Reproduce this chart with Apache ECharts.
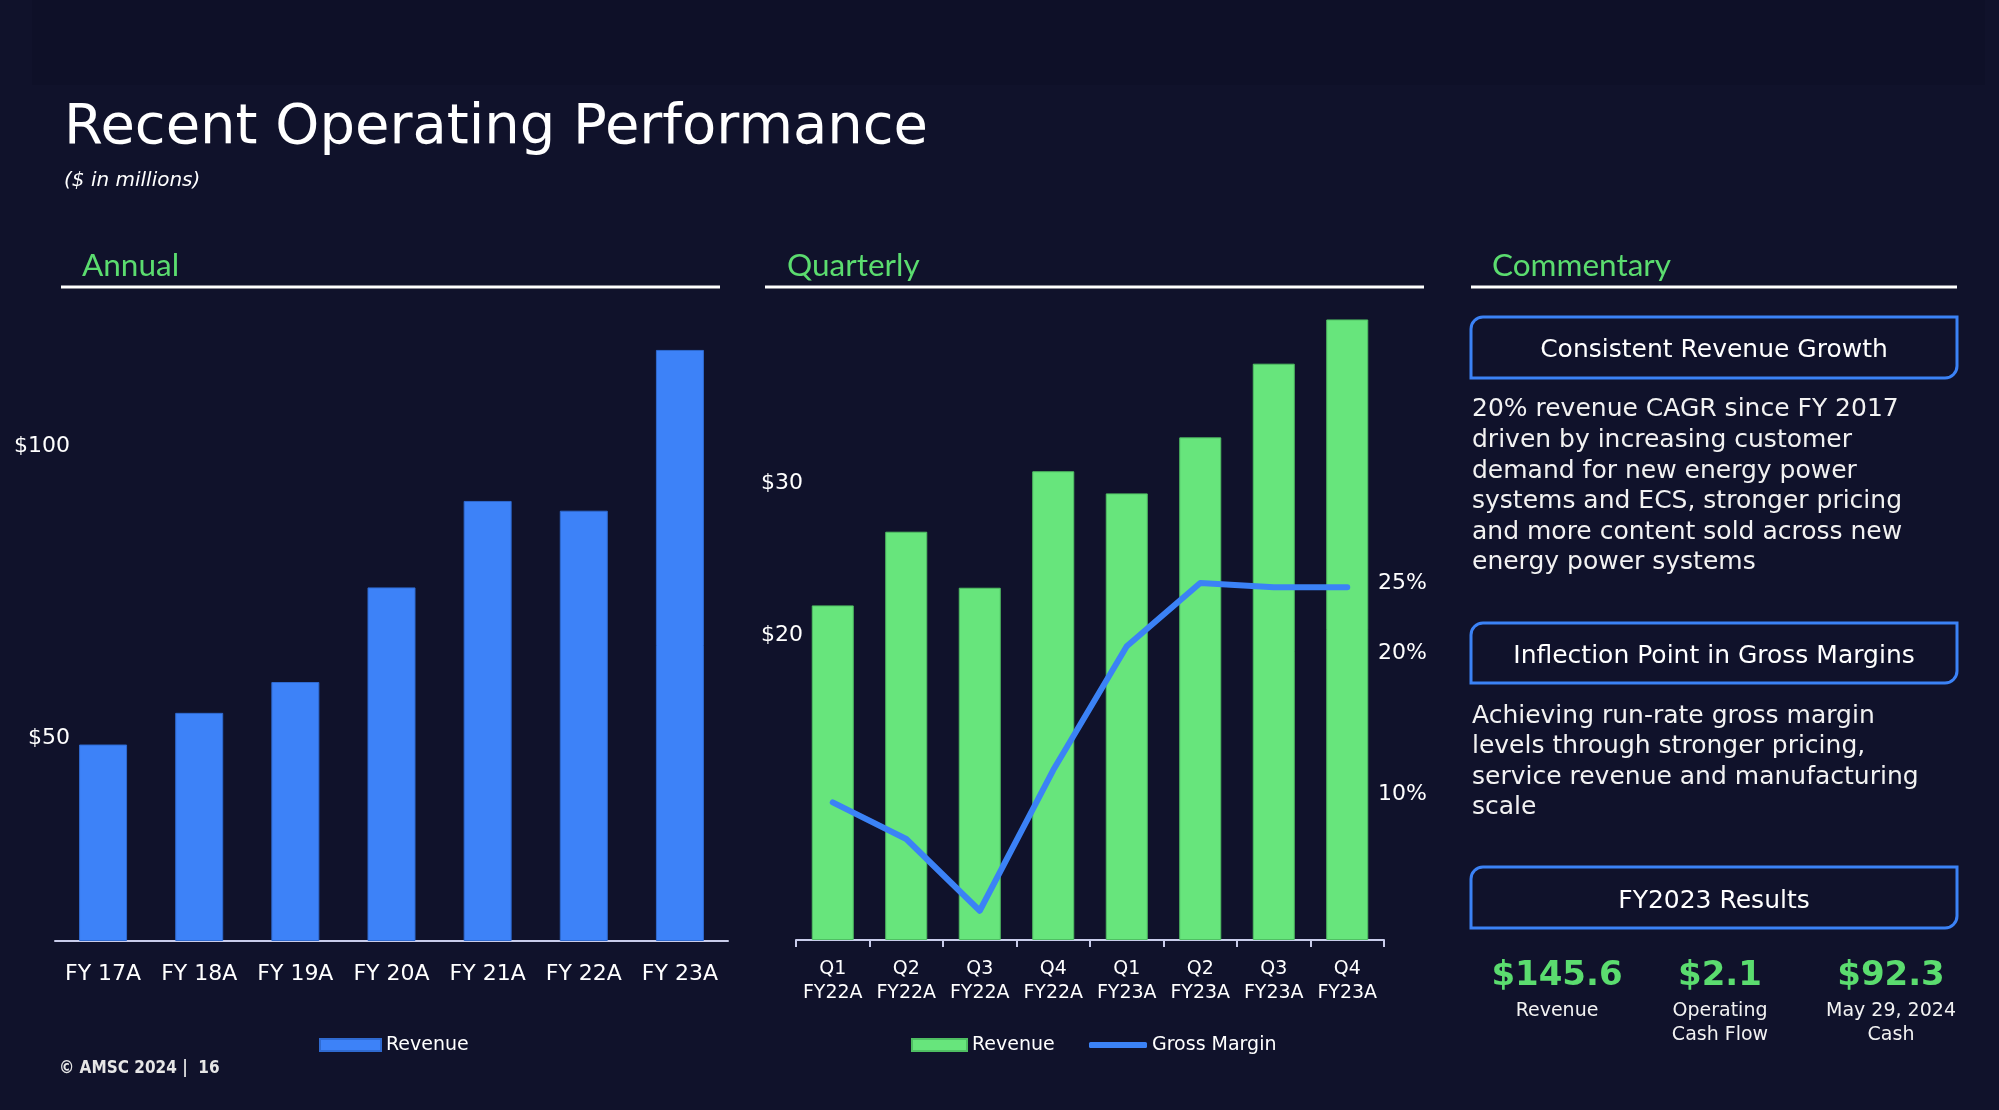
<!DOCTYPE html>
<html>
<head>
<meta charset="utf-8">
<style>
  html, body { margin: 0; padding: 0; background: #10122B; }
  #chart { width: 1999px; height: 1110px; }
</style>
<script src="https://cdn.jsdelivr.net/npm/echarts@6/dist/echarts.min.js"></script>
</head>
<body>
<div id="chart"></div>
<script>
// ---------- data ----------
const annualCategories = ['FY 17A', 'FY 18A', 'FY 19A', 'FY 20A', 'FY 21A', 'FY 22A', 'FY 23A'];
const annualRevenue = [48.4, 56.2, 63.8, 87.1, 108.4, 106.0, 145.6];
const annualTickLabels = [50, 100];

const quarterCategories = ['Q1\nFY22A', 'Q2\nFY22A', 'Q3\nFY22A', 'Q4\nFY22A', 'Q1\nFY23A', 'Q2\nFY23A', 'Q3\nFY23A', 'Q4\nFY23A'];
const quarterRevenue = [22.7, 27.7, 23.9, 31.8, 30.3, 34.1, 39.1, 42.1];
const quarterGrossMargin = [9.4, 6.8, 1.7, 11.7, 20.5, 25.0, 24.7, 24.7];
const quarterRevenueTickLabels = [20, 30];
const quarterMarginTickLabels = [10, 20, 25];

const resultValues = ['$145.6', '$2.1', '$92.3'];
const resultLabels = ['Revenue', 'Operating\nCash Flow', 'May 29, 2024\nCash'];

// ---------- styles ----------
const BG = '#10122B';
const BLUE = '#3D82F8';
const GREEN = '#67E57C';
const HEAD_GREEN = '#5BDC6F';
const AXIS = '#C9CCEB';
const TXT = '#FFFFFF';
const FONT = "'DejaVu Sans', Verdana, sans-serif";
const HEAD_FONT = "Lato, 'Open Sans', sans-serif";

const chart = echarts.init(document.getElementById('chart'), null, { renderer: 'canvas' });

function txt(x, y, text, opts) {
  return {
    type: 'text', x: x, y: y, silent: true,
    style: Object.assign({ text: text, fill: TXT, fontFamily: FONT, fontSize: 25, align: 'left', verticalAlign: 'middle' }, opts || {})
  };
}
function hline(x1, x2, y, w, color) {
  return { type: 'line', silent: true, shape: { x1: x1, y1: y, x2: x2, y2: y }, style: { stroke: color, lineWidth: w } };
}
function box(x, y, w, h) {
  return { type: 'rect', silent: true, shape: { x: x, y: y, width: w, height: h, r: [12, 0, 12, 0] },
           style: { fill: 'none', stroke: '#3B82F6', lineWidth: 3 } };
}

const graphics = [
  { type: 'rect', silent: true, z: -10, shape: { x: 32, y: 0, width: 1953, height: 85 }, style: { fill: '#0E1028' } },
  txt(64, 128, 'Recent Operating Performance', { fontSize: 56 }),
  txt(64, 181, '($ in millions)', { fontSize: 20, fontStyle: 'italic' }),
  txt(82, 266, 'Annual', { fontSize: 31.5, fontFamily: HEAD_FONT, fill: HEAD_GREEN }),
  txt(787, 266, 'Quarterly', { fontSize: 31.5, fontFamily: HEAD_FONT, fill: HEAD_GREEN }),
  txt(1492, 266, 'Commentary', { fontSize: 31.5, fontFamily: HEAD_FONT, fill: HEAD_GREEN }),
  hline(61, 720, 287, 3, '#FFFFFF'),
  hline(765, 1424, 287, 3, '#FFFFFF'),
  hline(1471, 1957, 287, 3, '#FFFFFF'),
  box(1471, 317, 486, 61),
  txt(1714, 350.5, 'Consistent Revenue Growth', { align: 'center' }),
  txt(1472, 394.5, '20% revenue CAGR since FY 2017\ndriven by increasing customer\ndemand for new energy power\nsystems and ECS, stronger pricing\nand more content sold across new\nenergy power systems',
      { verticalAlign: 'top', lineHeight: 30.6, fill: '#F2F2F2' }),
  box(1471, 623, 486, 60),
  txt(1714, 656, 'Inflection Point in Gross Margins', { align: 'center' }),
  txt(1472, 701, 'Achieving run-rate gross margin\nlevels through stronger pricing,\nservice revenue and manufacturing\nscale',
      { verticalAlign: 'top', lineHeight: 30.5, fill: '#F2F2F2' }),
  box(1471, 867, 486, 61),
  txt(1714, 901, 'FY2023 Results', { align: 'center' }),
  txt(59, 1068.5, '\u00A9 AMSC 2024 |  16', { fontSize: 17, fontWeight: 'bold', fontFamily: "'DejaVu Sans Condensed', 'DejaVu Sans', sans-serif", fill: '#E6E6E6' })
];
const resX = [1557, 1720, 1891];
resultValues.forEach((v, i) => {
  graphics.push(txt(resX[i], 976.5, v, { align: 'center', fontSize: 34, fontWeight: 'bold', fill: HEAD_GREEN }));
  graphics.push(txt(resX[i], 999.5, resultLabels[i], { align: 'center', fontSize: 19, lineHeight: 24, verticalAlign: 'top', fill: '#F2F2F2' }));
});

const labelStyle = { color: TXT, fontFamily: FONT, fontSize: 22 };
const legendText = { color: TXT, fontSize: 19, fontFamily: FONT, lineHeight: 20 };

const option = {
  backgroundColor: BG,
  animation: false,
  textStyle: { fontFamily: FONT },
  graphic: { elements: graphics },
  grid: [
    { left: 55, top: 300, width: 673, height: 641 },
    { left: 796, top: 300, width: 588, height: 640 }
  ],
  legend: [
    {
      left: 319, top: 1035, padding: 0, itemWidth: 61, itemHeight: 12, icon: 'rect',
      data: ['Annual Revenue'],
      formatter: () => 'Revenue',
      textStyle: legendText
    },
    {
      left: 911, top: 1035, padding: 0, itemWidth: 55, itemHeight: 12, icon: 'rect',
      data: ['Quarterly Revenue'],
      formatter: () => 'Revenue',
      textStyle: legendText
    },
    {
      left: 1089, top: 1035, padding: 0, itemWidth: 58, itemHeight: 6, icon: 'roundRect',
      data: ['Gross Margin'],
      textStyle: legendText
    }
  ],
  xAxis: [
    {
      type: 'category', gridIndex: 0, data: annualCategories,
      axisLine: { lineStyle: { color: AXIS, width: 2 } },
      axisTick: { show: false },
      axisLabel: Object.assign({ interval: 0, margin: 22, lineHeight: 22 }, labelStyle)
    },
    {
      type: 'category', gridIndex: 1, data: quarterCategories,
      axisLine: { lineStyle: { color: AXIS, width: 2 } },
      axisTick: { show: true, interval: 0, length: 7, lineStyle: { color: AXIS, width: 2 } },
      axisLabel: Object.assign({}, labelStyle, { interval: 0, fontSize: 19, lineHeight: 24, margin: 17 })
    }
  ],
  yAxis: [
    { type: 'value', gridIndex: 0, min: 0, max: 157.9, show: false },
    {
      type: 'value', gridIndex: 0, min: 15.33, max: 125.09, position: 'left', offset: -23,
      axisLine: { show: false }, axisTick: { show: false }, splitLine: { show: false },
      axisLabel: Object.assign({ margin: 8, customValues: annualTickLabels, formatter: v => '$' + v }, labelStyle)
    },
    { type: 'value', gridIndex: 1, min: 0, max: 43.42, show: false },
    {
      type: 'value', gridIndex: 1, min: -0.03, max: 42.07, position: 'left', offset: -15,
      axisLine: { show: false }, axisTick: { show: false }, splitLine: { show: false },
      axisLabel: Object.assign({ margin: 8, customValues: quarterRevenueTickLabels, formatter: v => '$' + v }, labelStyle)
    },
    {
      type: 'value', gridIndex: 1, min: -0.38, max: 45.11, position: 'right', offset: -14,
      axisLine: { show: false }, axisTick: { show: false }, splitLine: { show: false },
      axisLabel: Object.assign({ margin: 8, customValues: quarterMarginTickLabels, formatter: v => v + '%' }, labelStyle)
    }
  ],
  series: [
    {
      name: 'Annual Revenue', type: 'bar', xAxisIndex: 0, yAxisIndex: 0,
      data: annualRevenue, barWidth: 48,
      itemStyle: { color: BLUE, borderColor: '#2F6AD0', borderWidth: 1 }
    },
    {
      name: 'Quarterly Revenue', type: 'bar', xAxisIndex: 1, yAxisIndex: 2,
      data: quarterRevenue, barWidth: 42,
      itemStyle: { color: GREEN, borderColor: '#4FBF63', borderWidth: 1 }
    },
    {
      name: 'Gross Margin', type: 'line', xAxisIndex: 1, yAxisIndex: 4,
      data: quarterGrossMargin, symbol: 'none', showSymbol: false,
      lineStyle: { color: '#3B82F6', width: 6, cap: 'round', join: 'round' },
      itemStyle: { color: '#3B82F6' }
    }
  ]
};
chart.setOption(option);
</script>
</body>
</html>
